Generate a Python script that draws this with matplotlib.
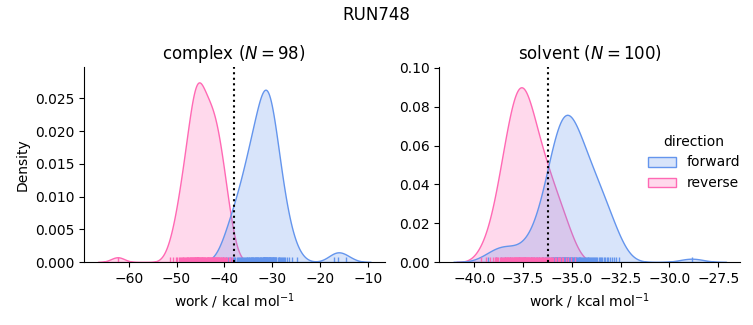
import numpy as np
import pandas as pd
import seaborn as sns
import matplotlib
matplotlib.use("Agg")
import matplotlib.pyplot as plt

run_name = "RUN748"
phases = ["complex", "solvent"]
directions = ["forward", "reverse"]
colors = {"forward": "cornflowerblue", "reverse": "hotpink"}

# work values (kcal/mol), reverse already sign-flipped
complex_forward = [
    -40.35, -39.70, -39.25, -38.90, -38.58, -38.27, -37.98, -37.70, -37.42, -37.16,
    -36.89, -36.66, -36.44, -36.25, -36.06, -35.87, -35.71, -35.52, -35.37, -35.22,
    -35.07, -34.92, -34.80, -34.65, -34.54, -34.38, -34.27, -34.16, -34.04, -33.93,
    -33.78, -33.70, -33.59, -33.47, -33.36, -33.24, -33.13, -33.02, -32.90, -32.71,
    -32.60, -32.52, -32.41, -32.29, -32.10, -31.99, -31.91, -31.85, -31.80, -31.76,
    -31.72, -31.66, -31.58, -31.50, -31.45, -31.37, -31.29, -31.23, -31.15, -31.07,
    -31.02, -30.94, -30.85, -30.77, -30.69, -30.61, -30.53, -30.45, -30.40, -30.29,
    -30.21, -30.13, -30.04, -29.96, -29.86, -29.77, -29.67, -29.59, -29.48, -29.37,
    -29.26, -29.15, -28.78, -28.64, -28.51, -28.34, -28.18, -27.99,
    -27.78, -27.56, -27.29, -26.97, -26.56, -25.99, -24.89,
    -17.02, -16.38, -14.61,
]
complex_reverse = [
    -62.31,
    -51.45, -50.72, -50.21,
    -49.83, -49.58, -49.31, -49.09,
    -48.90, -48.74, -48.57, -48.41, -48.22, -48.06,
    -47.92, -47.79, -47.66, -47.53, -47.40, -47.27, -47.14, -47.02,
    -46.95, -46.85, -46.75, -46.65, -46.55, -46.45, -46.35, -46.25, -46.15, -46.05,
    -45.97, -45.90, -45.82, -45.78, -45.74, -45.66, -45.62, -45.59, -45.51, -45.43,
    -45.36, -45.28, -45.20, -45.12,
    -44.96, -44.87, -44.78, -44.69, -44.60, -44.51, -44.42, -44.33, -44.24, -44.14, -44.05,
    -43.78, -43.69, -43.60, -43.51, -43.42, -43.33, -43.24, -43.14, -43.05,
    -42.95, -42.85, -42.75, -42.65, -42.55, -42.45, -42.35, -42.25, -42.15, -42.05,
    -41.94, -41.83, -41.72, -41.61, -41.50, -41.38, -41.27, -41.16, -41.04,
    -40.92, -40.78, -40.64, -40.50, -40.36, -40.22, -40.08,
    -39.86, -39.61, -39.37, -39.12,
    -38.83, -38.42,
]
solvent_forward = [
    -39.31, -38.88, -38.62, -38.41, -38.17, -37.73, -37.38, -37.12,
    -36.94, -36.81, -36.67, -36.55,
    -36.46, -36.40, -36.34, -36.28, -36.21, -36.15, -36.09, -36.03,
    -35.98, -35.95, -35.92, -35.89, -35.86, -35.83, -35.80, -35.77, -35.74, -35.71,
    -35.68, -35.65, -35.62, -35.59, -35.56, -35.53, -35.51,
    -35.48, -35.45, -35.43, -35.40, -35.37, -35.34, -35.32, -35.29, -35.26, -35.23,
    -35.20, -35.18, -35.15, -35.12, -35.09, -35.07, -35.04, -35.01,
    -34.98, -34.94, -34.91, -34.87, -34.84, -34.80, -34.77, -34.73, -34.70, -34.66,
    -34.63, -34.59, -34.56, -34.52,
    -34.47, -34.43, -34.38, -34.34, -34.29, -34.25, -34.20, -34.16, -34.11, -34.07, -34.02,
    -33.96, -33.91, -33.85, -33.80, -33.74, -33.69, -33.63, -33.58, -33.52,
    -33.45, -33.37, -33.29, -33.21, -33.13, -33.05,
    -32.94, -32.83, -32.72, -32.61,
    -28.86,
]
solvent_reverse = [
    -39.68, -39.39, -39.22, -39.06,
    -38.96, -38.90, -38.84, -38.78, -38.71, -38.65, -38.59, -38.53,
    -38.48, -38.45, -38.42, -38.38, -38.35, -38.32, -38.28, -38.25, -38.22, -38.18,
    -38.15, -38.12, -38.08, -38.05, -38.02,
    -37.98, -37.96, -37.93, -37.91, -37.88, -37.86, -37.83, -37.81, -37.78, -37.76,
    -37.73, -37.71, -37.68, -37.66, -37.63, -37.61, -37.58, -37.56, -37.53, -37.51,
    -37.48, -37.45, -37.43, -37.40, -37.37, -37.34, -37.32, -37.29, -37.26, -37.23,
    -37.20, -37.18, -37.15, -37.12, -37.09, -37.07, -37.04, -37.01,
    -36.98, -36.94, -36.90, -36.86, -36.82, -36.78, -36.75, -36.71, -36.67, -36.63,
    -36.59, -36.55, -36.52,
    -36.47, -36.42, -36.37, -36.32, -36.27, -36.22, -36.17, -36.12, -36.07, -36.02,
    -35.95, -35.88, -35.80, -35.73, -35.66, -35.59, -35.52,
    -35.44, -35.31, -35.19, -35.06,
    -34.83,
]
# free energy estimates (dotted lines)
dg = {"complex": -38.1, "solvent": -36.25}
n_pairs = {"complex": 98, "solvent": 100}

works = {
    ("complex", "forward"): complex_forward,
    ("complex", "reverse"): complex_reverse,
    ("solvent", "forward"): solvent_forward,
    ("solvent", "reverse"): solvent_reverse,
}
rows = []
for (phase, direction), vals in works.items():
    for w in vals:
        rows.append({"phase": phase, "direction": direction, "work": w})
df = pd.DataFrame(rows)

g = sns.displot(
    df, x="work", hue="direction", col="phase", kind="kde", fill=True, rug=True,
    hue_order=directions, col_order=phases, palette=colors,
    facet_kws=dict(sharex=False, sharey=False), height=3, aspect=1.2,
)
g.set_axis_labels("work / kcal mol$^{-1}$", "Density")

for ax, phase in zip(g.axes.flat, phases):
    ax.axvline(dg[phase], color="k", ls=":")
    ax.set_title(f"{phase} ($N = {n_pairs[phase]}$)")

g.axes.flat[0].set_ylim(0, 0.0298)
g.axes.flat[1].set_ylim(0, 0.1005)

fig = g.figure
fig.set_size_inches(7.53, 3.25)
fig.subplots_adjust(left=84 / 753, right=740 / 753, bottom=63 / 325, top=258 / 325, wspace=0.183)
fig.suptitle(run_name)
g._legend.set_bbox_to_anchor((1.0, 0.5), transform=fig.transFigure)

fig.savefig("out.png", dpi=100)
